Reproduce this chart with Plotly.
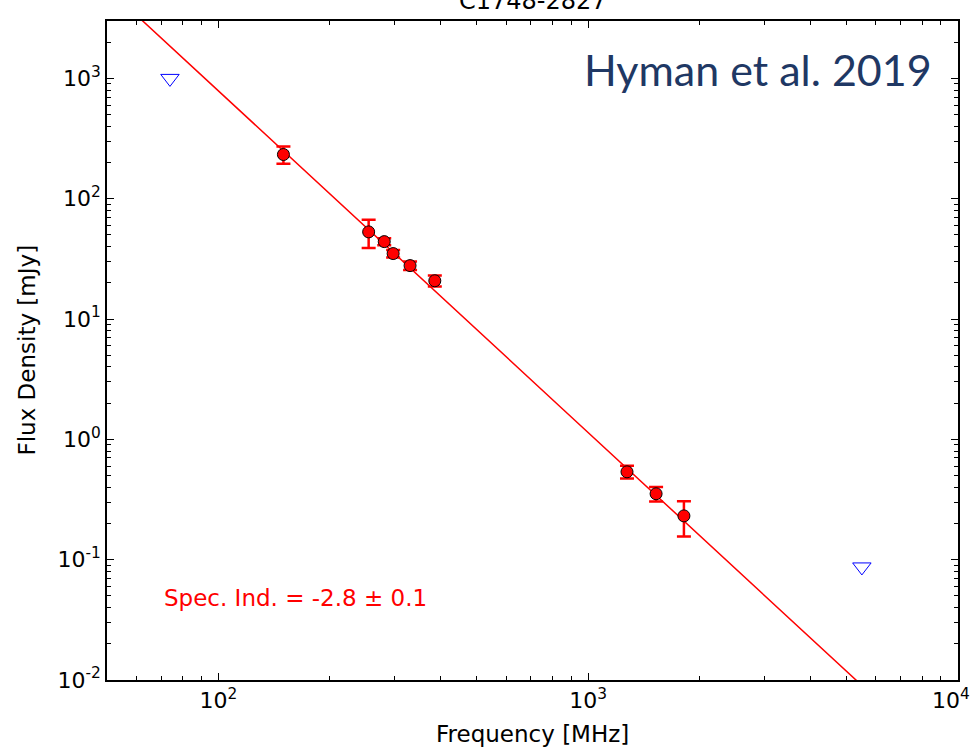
import numpy as np
import plotly.graph_objects as go

# Measured flux densities (MHz, mJy)
freq_mhz = [150, 255, 281, 297, 330, 385, 1274, 1527, 1816]
flux_mjy = [233, 53, 44, 35, 27.8, 20.8, 0.537, 0.353, 0.231]
flux_err = [38, 14, 3, 2.5, 2.3, 2.2, 0.065, 0.048, 0.075]

# Non-detections (upper limits)
limit_freq = [74, 5500]
limit_flux = [1000, 0.087]

# Power-law fit S = S0 * (nu / nu0)^alpha
alpha = -2.84
alpha_err = 0.1
nu0 = 1000.0
s0 = 1.14

fit_freq = np.logspace(np.log10(40), np.log10(12000), 200)
fit_flux = s0 * (fit_freq / nu0) ** alpha

x_ticks = [100, 1000, 10000]
# trailing no-break spaces keep the last label inside the page
x_ticktext = ["10<sup>2</sup>", "10<sup>3</sup>", "10<sup>4</sup>\u00a0\u00a0"]
y_ticks = [0.01, 0.1, 1, 10, 100, 1000]
y_ticktext = ["10<sup>-2</sup>", "10<sup>-1</sup>", "10<sup>0</sup>",
              "10<sup>1</sup>", "10<sup>2</sup>", "10<sup>3</sup>"]

# Minor ticks at 2..9 times each decade
x_minor = [m * 10 ** d for d in (1, 2, 3) for m in range(2, 10)]
y_minor = [m * 10.0 ** d for d in (-2, -1, 0, 1, 2, 3) for m in range(2, 10)]

fig = go.Figure()

fig.add_trace(go.Scatter(
    x=fit_freq, y=fit_flux, mode="lines",
    line=dict(color="#ff0000", width=1.5),
    hoverinfo="skip", showlegend=False,
))

fig.add_trace(go.Scatter(
    x=freq_mhz, y=flux_mjy, mode="markers",
    error_y=dict(type="data", array=flux_err, visible=True,
                 color="#ff0000", thickness=2.5, width=7),
    marker=dict(symbol="circle", size=12, color="#ff0000",
                line=dict(color="#000000", width=1)),
    showlegend=False,
))

fig.add_trace(go.Scatter(
    x=limit_freq, y=limit_flux, mode="markers",
    marker=dict(symbol="triangle-down-open", size=16, color="#0000ff",
                line=dict(color="#0000ff", width=1)),
    showlegend=False,
))

axis_common = dict(
    type="log",
    automargin=False,
    ticklabeloverflow="allow",
    showgrid=False,
    zeroline=False,
    showline=True,
    linecolor="#000000",
    linewidth=1.5,
    mirror="allticks",
    ticks="inside",
    ticklen=7,
    tickwidth=1.2,
    tickcolor="#000000",
    tickfont=dict(family="DejaVu Sans", size=22, color="#000000"),
)

fig.update_xaxes(
    **axis_common,
    range=[np.log10(50), 4.0003],
    tickmode="array", tickvals=x_ticks, ticktext=x_ticktext,
    minor=dict(tickmode="array", tickvals=x_minor, ticks="inside",
               ticklen=4, tickwidth=1, tickcolor="#000000", showgrid=False),
)
fig.update_yaxes(
    **axis_common,
    range=[-2.0003, np.log10(3000)],
    tickmode="array", tickvals=y_ticks, ticktext=y_ticktext,
    minor=dict(tickmode="array", tickvals=y_minor, ticks="inside",
               ticklen=4, tickwidth=1, tickcolor="#000000", showgrid=False),
)

# Axis titles
fig.add_annotation(
    text="Frequency [MHz]",
    xref="paper", yref="paper", x=0.5, y=0,
    xanchor="center", yanchor="middle", yshift=-54, showarrow=False,
    font=dict(family="DejaVu Sans", size=23, color="#000000"),
)
fig.add_annotation(
    text="Flux Density [mJy]", textangle=-90,
    xref="paper", yref="paper", x=0, y=0.5,
    xanchor="center", yanchor="middle", xshift=-81, showarrow=False,
    font=dict(family="DejaVu Sans", size=23, color="#000000"),
)

fig.add_annotation(
    text=f"Spec. Ind. = {alpha:.1f} \u00b1 {alpha_err:.1f}",
    xref="paper", yref="paper", x=0.065, y=0.124,
    xanchor="left", yanchor="middle", showarrow=False,
    font=dict(family="DejaVu Sans", size=23, color="#ff0000"),
)

fig.add_annotation(
    text="Hyman et al. 2019",
    xref="paper", yref="paper", x=0.972, y=0.926,
    xanchor="right", yanchor="middle", showarrow=False,
    font=dict(family="Lato", size=43, color="#1f3864"),
)

fig.add_annotation(
    text="C1748-2827",
    xref="paper", yref="paper", x=0.5, y=1,
    xanchor="center", yanchor="bottom", yshift=4, showarrow=False,
    font=dict(family="DejaVu Sans", size=24, color="#000000"),
)

fig.update_layout(
    width=975, height=747,
    margin=dict(l=107, r=17, t=21, b=67),
    paper_bgcolor="#ffffff",
    plot_bgcolor="#ffffff",
)

fig.write_html("out.html")
